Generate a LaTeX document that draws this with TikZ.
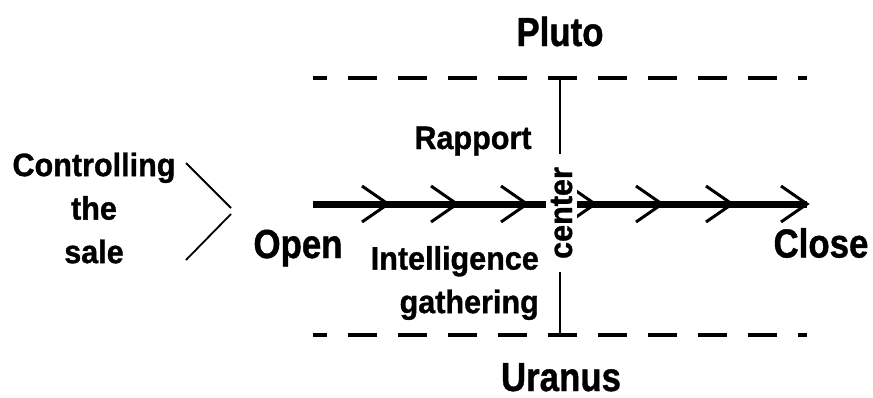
\documentclass[tikz,border=0pt]{standalone}
\usepackage{fontspec}
\setmainfont{Liberation Sans}
\newfontfamily\bigfam{Liberation Sans}[FakeStretch=0.86, BoldFeatures={FakeBold=1}]
\newfontfamily\smallfam{Liberation Sans}[FakeStretch=0.94, BoldFeatures={FakeBold=1}]
\begin{document}
\begin{tikzpicture}[x=1pt,y=-1pt,
  bigtext/.style={font=\bigfam\bfseries\fontsize{40.5}{46}\selectfont, inner sep=0pt},
  smalltext/.style={font=\smallfam\bfseries\fontsize{32.5}{43.5}\selectfont, inner sep=0pt},
  guide/.style={line width=4pt, dash pattern=on 29pt off 21pt, dash phase=15pt},
  mainline/.style={line width=7pt},
  chevline/.style={line width=3pt},
  thinline/.style={line width=1.8pt},
  chev/.pic={\draw[chevline] (-26,-18) -- (0,0) -- (-26,18);}
]
\useasboundingbox (0,0) rectangle (873,397);

% dashed guides
\coordinate (tl) at (313,78);
\coordinate (tr) at (807,78);
\coordinate (bl) at (313,335);
\coordinate (br) at (807,335);
\draw[guide] (tl) -- (tr);
\draw[guide] (bl) -- (br);

% vertical center line
\coordinate (vt) at (560,80);
\coordinate (vb) at (560,335);
\draw[line width=2pt] (vt) -- (vb);

% main arrow line
\coordinate (ls) at (313,204);
\coordinate (le) at (807,204);
\draw[mainline] (ls) -- (le);
\foreach \x in {388,457,527,595,662,732,807} {
  \pic at (\x,204) {chev};
}

% center label (covers line)
\node[smalltext, rotate=90, anchor=base, fill=white, inner xsep=13pt, inner ysep=5pt] (center) at (572,213) {center};

% texts
\node[bigtext, anchor=base] (pluto) at (560,46) {Pluto};
\node[bigtext, anchor=base] (uranus) at (561,391) {Uranus};
\node[bigtext, anchor=base] (open) at (298,258) {Open};
\node[bigtext, anchor=base] (close) at (821,257.5) {Close};
\node[smalltext, anchor=base] (rapport) at (473,149) {Rapport};
\node[smalltext, align=right, anchor=east] (intel) at (539,283) {Intelligence\\gathering};
\node[smalltext, align=center] (ctrl) at (94,208) {Controlling\\the\\sale};

% bracket
\coordinate (bu) at (186,163);
\coordinate (bm1) at (231,208);
\coordinate (bm2) at (231,214);
\coordinate (bd) at (186,260);
\draw[thinline] (bu) -- (bm1);
\draw[thinline] (bm2) -- (bd);
\end{tikzpicture}
\end{document}
